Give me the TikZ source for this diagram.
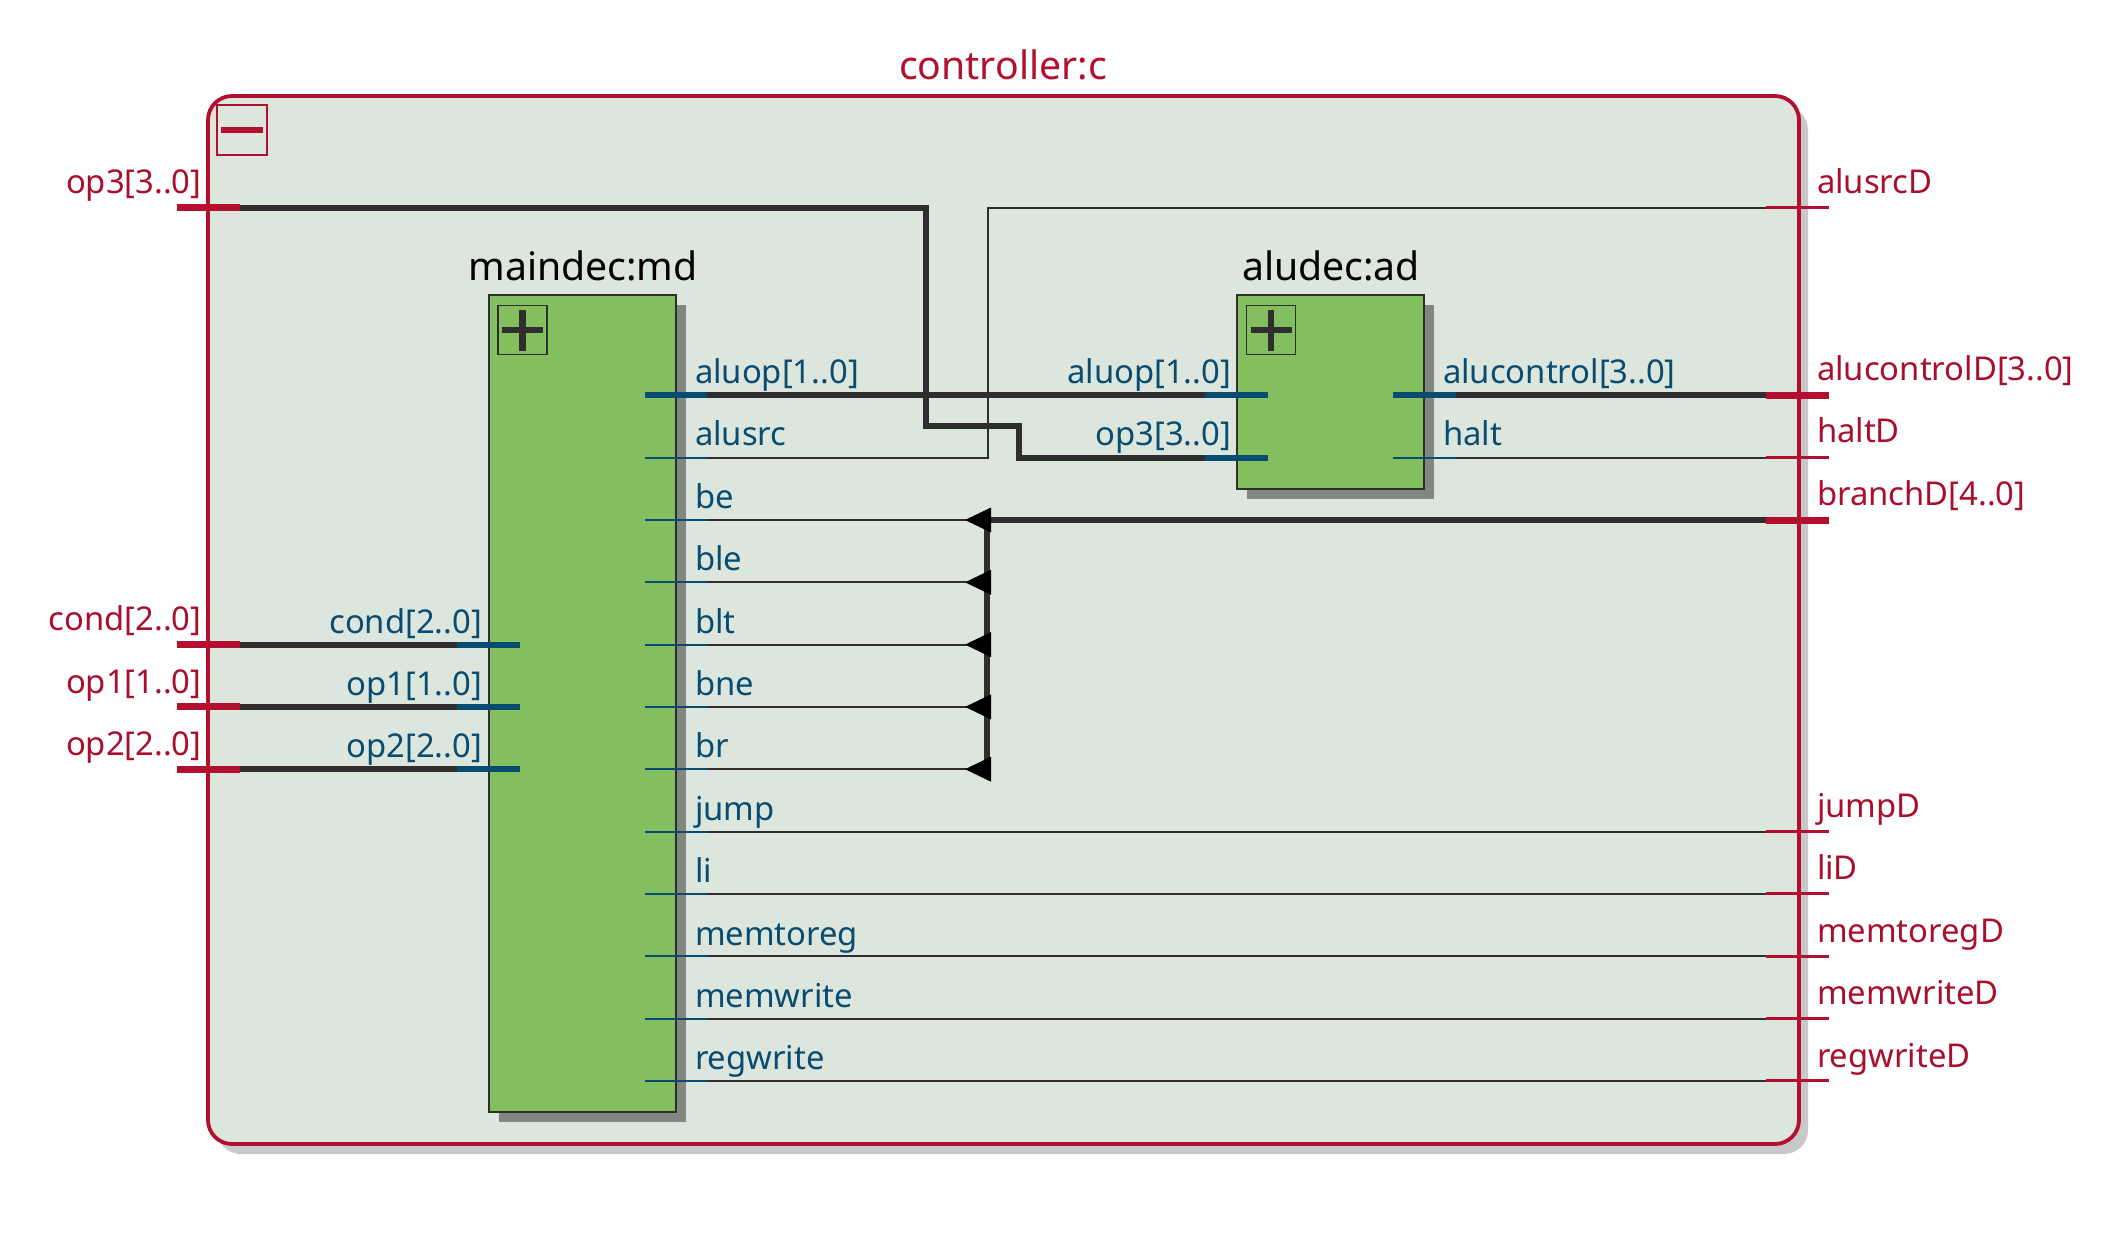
\documentclass[tikz,border=0pt]{standalone}
\usepackage{fontspec}
\setmainfont{Noto Sans}
\definecolor{framered}{HTML}{B30F2F}
\definecolor{labelred}{HTML}{A90F2C}
\definecolor{panel}{HTML}{DDE6DD}
\definecolor{blockgreen}{HTML}{83BF5F}
\definecolor{blockshadow}{HTML}{82877F}
\definecolor{panelshadow}{HTML}{C8C8C8}
\definecolor{wire}{HTML}{2E2E2E}
\definecolor{portblue}{HTML}{084C72}
\tikzset{
  x=1pt,y=-1pt,
  outer sep=0pt,
  lbl/.style={inner sep=0pt,font=\fontsize{32.8}{38}\selectfont},
  redleft/.style={lbl,text=labelred,anchor=base east},
  redright/.style={lbl,text=labelred,anchor=base west},
  blueleft/.style={lbl,text=portblue,anchor=base east},
  blueright/.style={lbl,text=portblue,anchor=base west},
  titlelbl/.style={inner sep=0pt,anchor=base,font=\fontsize{39.2}{44}\selectfont},
  block/.style={draw=wire,line width=1.6pt,fill=blockgreen,inner sep=0pt,anchor=north west},
  blockshade/.style={fill=blockshadow,draw=none,inner sep=0pt,anchor=north west},
  expander/.style={draw=wire,line width=1.6pt,inner sep=0pt,minimum width=49pt,minimum height=49pt,anchor=north west},
  busw/.style={draw=wire,line width=6pt},
  sigw/.style={draw=wire,line width=2pt},
  bluebus/.style={draw=portblue,line width=6pt},
  bluesig/.style={draw=portblue,line width=2pt},
  redbus/.style={draw=framered,line width=7pt},
  redsig/.style={draw=framered,line width=3pt},
  tap/.style={fill=black,draw=none},
}
\begin{document}
\begin{tikzpicture}
\useasboundingbox (0,0) rectangle (2114,1244);
% panel
\node[draw=none,fill=panelshadow,rounded corners=24pt,inner sep=0pt,minimum width=1591pt,minimum height=1048pt,anchor=north west] (panelshade) at (217,106) {};
\node[draw=framered,line width=3.8pt,fill=panel,rounded corners=24pt,inner sep=0pt,minimum width=1591pt,minimum height=1048pt,anchor=north west] (panel) at (208,96) {};
% minus box
\node[draw=framered,line width=1.6pt,inner sep=0pt,minimum width=50pt,minimum height=50pt,anchor=north west] (minus) at (217,105) {};
\draw[draw=framered,line width=6.5pt] ([xshift=4pt]minus.west) -- ([xshift=-4pt]minus.east);
% blocks
\node[blockshade,minimum width=187pt,minimum height=817pt] (mdshade) at (499,305) {};
\node[blockshade,minimum width=187pt,minimum height=194pt] (adshade) at (1247,305) {};
\node[block,minimum width=187pt,minimum height=817pt] (md) at (489,295) {};
\node[block,minimum width=187pt,minimum height=194pt] (ad) at (1237,295) {};
\node[expander] (mdx) at (498,305.5) {};
\node[expander] (adx) at (1246.5,305.5) {};
\draw[draw=wire,line width=6.5pt] ([xshift=4pt]mdx.west) -- ([xshift=-4pt]mdx.east);
\draw[draw=wire,line width=6.5pt] ([yshift=-4pt]mdx.north) -- ([yshift=4pt]mdx.south);
\draw[draw=wire,line width=6.5pt] ([xshift=4pt]adx.west) -- ([xshift=-4pt]adx.east);
\draw[draw=wire,line width=6.5pt] ([yshift=-4pt]adx.north) -- ([yshift=4pt]adx.south);
% named ports
\foreach \n/\y in {aluop/395,alusrc/457.5,be/520,ble/582.3,blt/644.6,bne/706.9,br/769.2,jump/831.5,li/893.8,memtoreg/956.4,memwrite/1018.8,regwrite/1080.8}{
  \coordinate (o\n) at (645,\y);
  \coordinate (e\n) at (707,\y);
  \coordinate (r\n) at (1766,\y);
  \coordinate (f\n) at (1829,\y);
}
\coordinate (rtop) at (1766,207.6);
\coordinate (ftop) at (1829,207.6);
\foreach \n/\y in {cond/644.6,opone/706.9,optwo/769.2}{
  \coordinate (l\n) at (177,\y);
  \coordinate (m\n) at (240,\y);
  \coordinate (s\n) at (457,\y);
  \coordinate (i\n) at (520,\y);
}
\coordinate (lop) at (177,207.6);
\coordinate (mop) at (240,207.6);
\coordinate (aia) at (1205,395);
\coordinate (aib) at (1268,395);
\coordinate (bia) at (1205,457.5);
\coordinate (bib) at (1268,457.5);
\coordinate (aoa) at (1393,395);
\coordinate (aob) at (1456,395);
\coordinate (boa) at (1393,457.5);
\coordinate (bob) at (1456,457.5);
% wires
\draw[busw] (mop) -- (926,207.6) -- (926,426) -- (1019,426) -- (1019,457.5) -- (bia);
\draw[sigw] (ealusrc) -- (988,457.5) -- (988,207.6) -- (rtop);
\draw[busw] (ealuop) -- (aia);
\draw[busw] (aob) -- (raluop);
\draw[sigw] (bob) -- (ralusrc);
\draw[busw] (rbe) -- (987,520) -- (987,769.2);
\foreach \n in {be,ble,blt,bne,br}{
  \draw[sigw] (e\n) -- ([xshift=265pt]e\n);
  \fill[tap] ([xshift=258pt]e\n) -- ([xshift=284pt,yshift=-12.5pt]e\n) -- ([xshift=284pt,yshift=12.5pt]e\n) -- cycle;
}
\foreach \n in {jump,li,memtoreg,memwrite,regwrite}{
  \draw[sigw] (e\n) -- (r\n);
}
\foreach \n in {cond,opone,optwo}{
  \draw[busw] (m\n) -- (s\n);
  \draw[bluebus] (s\n) -- (i\n);
  \draw[redbus] (l\n) -- (m\n);
}
% stubs
\draw[bluebus] (oaluop) -- (ealuop);
\foreach \n in {alusrc,be,ble,blt,bne,br,jump,li,memtoreg,memwrite,regwrite}{
  \draw[bluesig] (o\n) -- (e\n);
}
\draw[bluebus] (aia) -- (aib);
\draw[bluebus] (bia) -- (bib);
\draw[bluebus] (aoa) -- (aob);
\draw[bluesig] (boa) -- (bob);
\draw[redbus] (lop) -- (mop);
\draw[redsig] (rtop) -- (ftop);
\draw[redbus] (raluop) -- (faluop);
\draw[redsig] (ralusrc) -- (falusrc);
\draw[redbus] (rbe) -- (fbe);
\foreach \n in {jump,li,memtoreg,memwrite,regwrite}{
  \draw[redsig] (r\n) -- (f\n);
}
% titles
\node[titlelbl,text=framered] (tpanel) at (1003,80) {controller:c};
\node[titlelbl] (tmd) at (583,280.5) {maindec:md};
\node[titlelbl] (tad) at (1331,280.5) {aludec:ad};
% frame labels
\node[redleft] (tlop) at (201.5,193.5) {op3[3..0]};
\node[redleft] (tlcond) at (201.5,630.5) {cond[2..0]};
\node[redleft] (tlone) at (201.5,693.5) {op1[1..0]};
\node[redleft] (tltwo) at (201.5,755.5) {op2[2..0]};
\node[redright] (trsrc) at (1817,193.5) {alusrcD};
\node[redright] (trctl) at (1817,380.5) {alucontrolD[3..0]};
\node[redright] (trhalt) at (1817,442.5) {haltD};
\node[redright] (trbr) at (1817,505) {branchD[4..0]};
\node[redright] (trjump) at (1817,817) {jumpD};
\node[redright] (trli) at (1817,879.5) {liD};
\node[redright] (trmtr) at (1817,942) {memtoregD};
\node[redright] (trmw) at (1817,1004) {memwriteD};
\node[redright] (trrw) at (1817,1067) {regwriteD};
% md labels
\node[blueleft] (imcond) at (482,633.5) {cond[2..0]};
\node[blueleft] (imone) at (482,695.5) {op1[1..0]};
\node[blueleft] (imtwo) at (482,757.5) {op2[2..0]};
\foreach \n/\t/\y in {a/aluop[1..0]/383.5,b/alusrc/445.5,c/be/508.5,d/ble/570.5,e/blt/633.5,f/bne/695.5,g/br/757.5,h/jump/820.5,i/li/882.5,j/memtoreg/945,k/memwrite/1007.5,l/regwrite/1069.5}{
  \node[blueright] (om\n) at (695,\y) {\t};
}
% ad labels
\node[blueleft] (iaa) at (1231,383.5) {aluop[1..0]};
\node[blueleft] (iab) at (1231,445.5) {op3[3..0]};
\node[blueright] (oaa) at (1443,383.5) {alucontrol[3..0]};
\node[blueright] (oab) at (1443,445.5) {halt};
\end{tikzpicture}
\end{document}
